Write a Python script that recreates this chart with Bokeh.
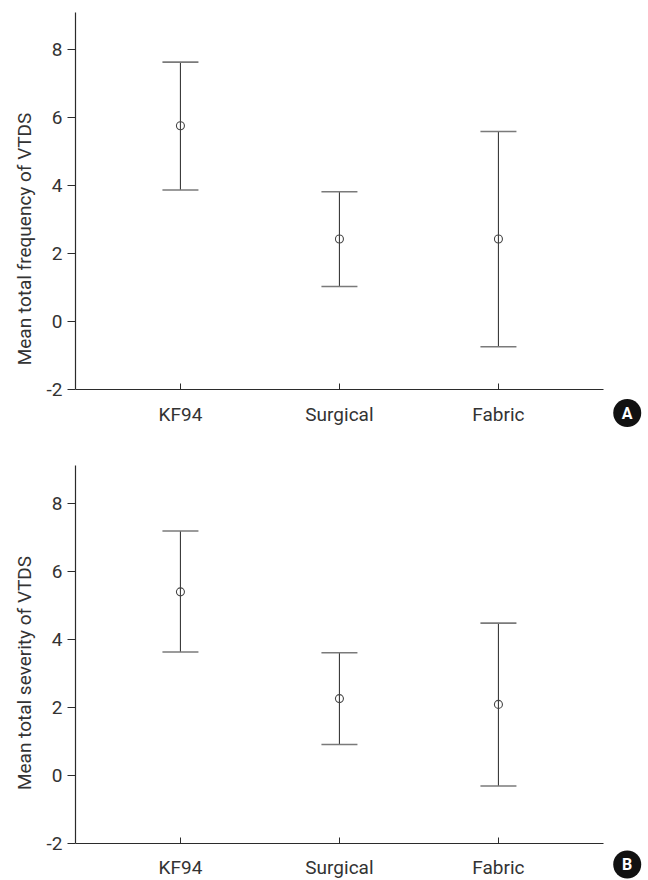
from bokeh.plotting import figure
from bokeh.models import (ColumnDataSource, Whisker, TeeHead, Range1d, FixedTicker)
from bokeh.layouts import column
from bokeh.core.properties import value
from bokeh.embed import file_html
from bokeh.resources import INLINE

# ---- data ----
categories = ["KF94", "Surgical", "Fabric"]

freq_mean = [5.77, 2.44, 2.44]
freq_lower = [3.88, 1.04, -0.73]
freq_upper = [7.64, 3.83, 5.60]

sev_mean = [5.41, 2.27, 2.10]
sev_lower = [3.64, 0.92, -0.30]
sev_upper = [7.20, 3.62, 4.49]

y_ticks = [-2, 0, 2, 4, 6, 8]
y_tick_labels = {t: str(t) for t in y_ticks}   # plain hyphen for "-2"

panel_letters = ["A", "B"]

x_pos = list(range(1, len(categories) + 1))
x_tick_labels = {x: c for x, c in zip(x_pos, categories)}

FONT = "Roboto"
TEXT = "#333333"
AXIS = "#2b2b2b"

PX_PER_X = 159.0
PX_PER_Y = 34.0
FRAME_W = 570
X_START, X_AXIS_END = 0.34, 3.66
X_END = X_START + FRAME_W / PX_PER_X
Y_MIN = -2


def make_panel(ylabel, mean, lower, upper, letter, frame_h, border_top,
               y_top, letter_xy, x_standoff):
    y_bottom = y_top - frame_h / PX_PER_Y
    p = figure(width=648, frame_width=FRAME_W, frame_height=frame_h,
               x_range=Range1d(X_START, X_END),
               y_range=Range1d(y_bottom, y_top),
               output_backend="svg", toolbar_location=None,
               min_border_left=75, min_border_right=3,
               min_border_top=border_top, min_border_bottom=0)
    p.xgrid.visible = False
    p.ygrid.visible = False
    p.outline_line_color = None

    src = ColumnDataSource(dict(x=x_pos, mean=mean, lower=lower, upper=upper))

    head_kw = dict(size=36, line_color="#7a7a7a", line_width=1.6)
    w = Whisker(base="x", upper="upper", lower="lower", source=src,
                line_color="#3a3a3a", line_width=1.1,
                upper_head=TeeHead(**head_kw), lower_head=TeeHead(**head_kw))
    p.add_layout(w)

    p.scatter(x="x", y="mean", source=src, marker="circle", size=8,
              fill_color=None, line_color="#444444", line_width=1.1)

    # y axis
    ya = p.yaxis[0]
    ya.ticker = FixedTicker(ticks=y_ticks)
    ya.major_label_overrides = y_tick_labels
    ya.bounds = (Y_MIN, y_top)
    ya.minor_tick_line_color = None
    ya.major_tick_in = 0
    ya.major_tick_out = 8
    ya.major_label_standoff = 5
    ya.axis_line_color = AXIS
    ya.major_tick_line_color = AXIS
    ya.axis_line_width = 1.2
    ya.major_label_text_font = FONT
    ya.major_label_text_font_size = "19px"
    ya.major_label_text_color = TEXT
    ya.axis_label = ylabel
    ya.axis_label_text_font = FONT
    ya.axis_label_text_font_size = "19px"
    ya.axis_label_text_font_style = "normal"
    ya.axis_label_text_color = TEXT
    ya.axis_label_standoff = 8

    # x axis, drawn at y = -2 inside the frame
    xa = p.xaxis[0]
    xa.fixed_location = Y_MIN
    xa.bounds = (X_START, X_AXIS_END)
    xa.ticker = FixedTicker(ticks=x_pos)
    xa.major_label_overrides = x_tick_labels
    xa.minor_tick_line_color = None
    xa.major_tick_in = 6
    xa.major_tick_out = 0
    xa.axis_line_color = AXIS
    xa.major_tick_line_color = AXIS
    xa.axis_line_width = 1.2
    xa.major_label_standoff = x_standoff
    xa.major_label_text_font = FONT
    xa.major_label_text_font_size = "19px"
    xa.major_label_text_color = TEXT

    # panel letter
    p.scatter(x=[letter_xy[0]], y=[letter_xy[1]], marker="circle", size=28,
              fill_color="#111111", line_color=None)
    p.text(x=[letter_xy[0]], y=[letter_xy[1]], text=[letter], text_color="white",
           text_font=value("Roboto"), text_font_style="bold",
           text_font_size="16px", text_align="center", text_baseline="middle")
    return p


# Panel A: figure 465 px tall (12 + 453)
pA = make_panel("Mean total frequency of VTDS", freq_mean, freq_lower, freq_upper,
                panel_letters[0], frame_h=453, border_top=12,
                y_top=9.1, letter_xy=(3.81, -2.68), x_standoff=13)

# Panel B: figure 415 px tall (0 + 415)
pB = make_panel("Mean total severity of VTDS", sev_mean, sev_lower, sev_upper,
                panel_letters[1], frame_h=415, border_top=0,
                y_top=9.126, letter_xy=(3.81, -2.61), x_standoff=12)

layout = column(pA, pB, spacing=0)
open("out.html", "w").write(file_html(layout, INLINE))
